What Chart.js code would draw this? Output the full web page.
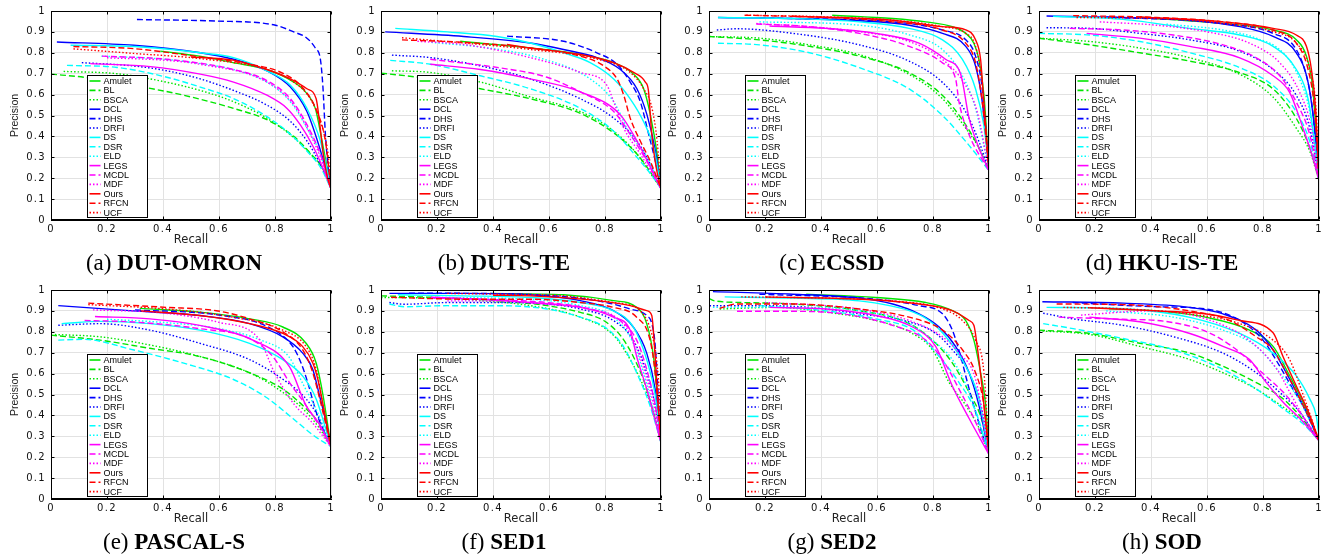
<!DOCTYPE html>
<html>
<head>
<meta charset="utf-8">
<script src="https://cdn.jsdelivr.net/npm/chart.js@4.4.0/dist/chart.umd.min.js"></script>
<style>
  body { margin: 0; background: #fff; width: 1331px; height: 559px; position: relative; overflow: hidden; }
  canvas { position: absolute; }
  .cap { position: absolute; width: 348px; height: 28px; line-height: 28px; text-align: center;
         font-family: "Liberation Serif", "Times New Roman", serif; font-size: 23px; color: #000; white-space: nowrap; }
</style>
</head>
<body>
<script>
const methods = ['Amulet', 'BL', 'BSCA', 'DCL', 'DHS', 'DRFI', 'DS', 'DSR', 'ELD', 'LEGS', 'MCDL', 'MDF', 'Ours', 'RFCN', 'UCF'];

// [recall, precision] pairs, one list per method (same order as methods)
const dutOmron = [
  [[0.39,0.808],[0.53,0.784],[0.65,0.753],[0.77,0.72],[0.867,0.66],[0.914,0.605],[0.944,0.534],[0.968,0.378],[0.988,0.236],[1,0.15]],
  [[0,0.698],[0.117,0.683],[0.295,0.644],[0.474,0.597],[0.652,0.534],[0.771,0.48],[0.867,0.40],[0.926,0.32],[0.974,0.238],[1,0.15]],
  [[0.045,0.711],[0.236,0.70],[0.355,0.675],[0.533,0.62],[0.652,0.566],[0.771,0.4875],[0.867,0.394],[0.926,0.316],[0.974,0.238],[1,0.15]],
  [[0.021,0.852],[0.295,0.836],[0.533,0.80],[0.652,0.769],[0.771,0.714],[0.855,0.636],[0.914,0.519],[0.956,0.36],[0.986,0.22],[1,0.15]],
  [[0.307,0.959],[0.59,0.952],[0.795,0.934],[0.867,0.90],[0.914,0.87],[0.944,0.823],[0.962,0.77],[0.971,0.64],[0.98,0.41],[0.99,0.25],[1,0.16]],
  [[0.11,0.753],[0.295,0.737],[0.414,0.714],[0.533,0.675],[0.652,0.62],[0.771,0.55],[0.855,0.472],[0.914,0.378],[0.962,0.266],[1,0.15]],
  [[0.07,0.836],[0.3,0.83],[0.533,0.80],[0.652,0.777],[0.771,0.714],[0.855,0.645],[0.914,0.534],[0.962,0.378],[1,0.15]],
  [[0.057,0.74],[0.236,0.73],[0.414,0.683],[0.533,0.636],[0.652,0.581],[0.771,0.495],[0.855,0.41],[0.914,0.33],[0.962,0.253],[1,0.15]],
  [[0.18,0.784],[0.4,0.77],[0.55,0.745],[0.652,0.72],[0.771,0.66],[0.855,0.566],[0.914,0.44],[0.962,0.316],[1,0.15]],
  [[0.14,0.748],[0.355,0.734],[0.533,0.698],[0.652,0.66],[0.771,0.597],[0.843,0.534],[0.89,0.456],[0.938,0.347],[0.98,0.22],[1,0.15]],
  [[0.182,0.784],[0.414,0.769],[0.652,0.72],[0.771,0.667],[0.855,0.58],[0.914,0.456],[0.962,0.316],[1,0.15]],
  [[0.2,0.776],[0.4,0.765],[0.533,0.745],[0.771,0.66],[0.867,0.55],[0.926,0.41],[0.968,0.28],[1,0.15]],
  [[0.5,0.78],[0.65,0.765],[0.771,0.72],[0.867,0.667],[0.914,0.628],[0.947,0.58],[0.958,0.48],[0.972,0.32],[0.988,0.2],[1,0.15]],
  [[0.08,0.83],[0.295,0.82],[0.533,0.78],[0.712,0.745],[0.831,0.70],[0.902,0.628],[0.95,0.519],[0.98,0.378],[1,0.15]],
  [[0.08,0.819],[0.295,0.797],[0.533,0.772],[0.771,0.72],[0.867,0.66],[0.926,0.58],[0.962,0.47],[0.99,0.31],[1,0.15]]
];

const dutsTe = [
  [[0.283,0.855],[0.533,0.823],[0.712,0.792],[0.831,0.753],[0.902,0.698],[0.938,0.628],[0.962,0.503],[0.986,0.316],[1,0.15]],
  [[0,0.703],[0.176,0.675],[0.355,0.628],[0.533,0.58],[0.712,0.51],[0.831,0.417],[0.914,0.316],[0.974,0.206],[1,0.15]],
  [[0.039,0.714],[0.176,0.706],[0.355,0.66],[0.533,0.589],[0.712,0.519],[0.831,0.425],[0.914,0.316],[0.974,0.2],[1,0.15]],
  [[0.015,0.90],[0.295,0.878],[0.533,0.847],[0.652,0.816],[0.771,0.777],[0.855,0.72],[0.914,0.628],[0.95,0.503],[0.98,0.331],[1,0.15]],
  [[0.45,0.88],[0.652,0.855],[0.771,0.80],[0.843,0.745],[0.89,0.66],[0.926,0.566],[0.956,0.41],[0.98,0.28],[1,0.15]],
  [[0.039,0.789],[0.176,0.777],[0.355,0.7375],[0.533,0.675],[0.712,0.58],[0.831,0.4875],[0.914,0.378],[0.962,0.266],[1,0.15]],
  [[0.051,0.917],[0.236,0.90],[0.414,0.878],[0.533,0.847],[0.652,0.80],[0.747,0.753],[0.831,0.675],[0.89,0.58],[0.938,0.47],[0.974,0.347],[1,0.15]],
  [[0.033,0.764],[0.176,0.745],[0.355,0.69],[0.533,0.628],[0.712,0.534],[0.831,0.425],[0.914,0.30],[0.962,0.222],[1,0.15]],
  [[0.18,0.85],[0.4,0.82],[0.581,0.77],[0.747,0.675],[0.831,0.566],[0.89,0.41],[0.95,0.30],[1,0.15]],
  [[0.176,0.745],[0.355,0.72],[0.533,0.675],[0.712,0.613],[0.855,0.503],[0.914,0.378],[0.962,0.253],[1,0.15]],
  [[0.176,0.769],[0.414,0.73],[0.593,0.683],[0.712,0.613],[0.831,0.519],[0.89,0.41],[0.95,0.28],[1,0.15]],
  [[0.13,0.855],[0.295,0.84],[0.533,0.777],[0.712,0.706],[0.807,0.644],[0.831,0.566],[0.867,0.44],[0.926,0.316],[1,0.15]],
  [[0.45,0.84],[0.533,0.823],[0.712,0.792],[0.831,0.753],[0.902,0.706],[0.944,0.66],[0.955,0.62],[0.967,0.41],[0.983,0.25],[1,0.15]],
  [[0.075,0.862],[0.295,0.85],[0.533,0.823],[0.712,0.784],[0.795,0.738],[0.843,0.675],[0.867,0.597],[0.89,0.4875],[0.926,0.378],[0.962,0.28],[1,0.15]],
  [[0.075,0.872],[0.295,0.847],[0.533,0.816],[0.771,0.77],[0.89,0.706],[0.938,0.628],[0.968,0.534],[0.986,0.378],[1,0.15]]
];

const ecssd = [
  [[0.44,0.98],[0.656,0.964],[0.774,0.948],[0.869,0.925],[0.917,0.893],[0.946,0.846],[0.964,0.768],[0.982,0.596],[1,0.235]],
  [[0,0.878],[0.18,0.862],[0.359,0.831],[0.537,0.784],[0.715,0.705],[0.834,0.596],[0.917,0.455],[0.964,0.345],[1,0.235]],
  [[0,0.878],[0.18,0.87],[0.359,0.838],[0.537,0.791],[0.715,0.697],[0.834,0.58],[0.917,0.439],[0.964,0.345],[1,0.235]],
  [[0.032,0.969],[0.299,0.964],[0.537,0.953],[0.715,0.932],[0.834,0.893],[0.917,0.831],[0.952,0.737],[0.976,0.564],[1,0.235]],
  [[0.18,0.967],[0.656,0.948],[0.834,0.909],[0.917,0.862],[0.952,0.784],[0.976,0.627],[1,0.235]],
  [[0.028,0.909],[0.097,0.915],[0.299,0.893],[0.537,0.838],[0.715,0.76],[0.834,0.658],[0.917,0.517],[0.964,0.376],[1,0.235]],
  [[0.032,0.969],[0.299,0.964],[0.537,0.948],[0.715,0.917],[0.834,0.862],[0.905,0.768],[0.952,0.627],[0.982,0.45],[1,0.235]],
  [[0.032,0.846],[0.18,0.838],[0.359,0.80],[0.537,0.729],[0.715,0.627],[0.834,0.50],[0.917,0.376],[0.964,0.298],[1,0.235]],
  [[0.18,0.948],[0.537,0.932],[0.715,0.886],[0.834,0.815],[0.905,0.69],[0.952,0.533],[1,0.235]],
  [[0.216,0.928],[0.418,0.917],[0.596,0.893],[0.75,0.846],[0.846,0.768],[0.899,0.697],[0.929,0.486],[0.964,0.345],[1,0.235]],
  [[0.169,0.938],[0.359,0.925],[0.537,0.893],[0.715,0.831],[0.834,0.752],[0.881,0.674],[0.893,0.564],[0.929,0.408],[1,0.235]],
  [[0.169,0.94],[0.359,0.925],[0.537,0.901],[0.715,0.854],[0.834,0.768],[0.917,0.643],[0.958,0.517],[1,0.235]],
  [[0.3,0.975],[0.656,0.956],[0.834,0.925],[0.917,0.91],[0.952,0.862],[0.97,0.768],[0.982,0.55],[1,0.235]],
  [[0.127,0.98],[0.418,0.969],[0.656,0.948],[0.834,0.909],[0.917,0.846],[0.952,0.752],[0.976,0.564],[1,0.235]],
  [[0.133,0.98],[0.418,0.972],[0.656,0.956],[0.834,0.925],[0.917,0.893],[0.952,0.831],[0.976,0.643],[1,0.235]]
];

const hkuIsTe = [
  [[0.36,0.969],[0.657,0.94],[0.836,0.909],[0.919,0.862],[0.955,0.784],[0.978,0.627],[1,0.19]],
  [[0,0.87],[0.182,0.838],[0.36,0.80],[0.539,0.76],[0.717,0.705],[0.836,0.627],[0.919,0.486],[0.967,0.345],[1,0.19]],
  [[0,0.87],[0.182,0.854],[0.36,0.823],[0.539,0.776],[0.717,0.697],[0.836,0.588],[0.919,0.439],[0.967,0.329],[1,0.19]],
  [[0.027,0.976],[0.3,0.969],[0.539,0.956],[0.717,0.925],[0.836,0.878],[0.919,0.80],[0.961,0.658],[0.984,0.439],[1,0.19]],
  [[0.24,0.972],[0.657,0.94],[0.836,0.893],[0.919,0.815],[0.961,0.658],[0.978,0.517],[1,0.19]],
  [[0.027,0.92],[0.182,0.917],[0.36,0.893],[0.539,0.862],[0.717,0.807],[0.836,0.72],[0.919,0.596],[0.967,0.439],[1,0.19]],
  [[0.05,0.975],[0.3,0.96],[0.539,0.917],[0.717,0.885],[0.836,0.831],[0.919,0.72],[0.961,0.58],[0.984,0.376],[1,0.19]],
  [[0,0.893],[0.182,0.885],[0.36,0.854],[0.539,0.80],[0.717,0.729],[0.836,0.643],[0.919,0.517],[0.967,0.376],[1,0.19]],
  [[0.455,0.937],[0.657,0.909],[0.776,0.87],[0.872,0.80],[0.931,0.674],[0.967,0.517],[1,0.19]],
  [[0.17,0.893],[0.36,0.87],[0.539,0.831],[0.717,0.776],[0.836,0.69],[0.895,0.611],[0.943,0.439],[0.978,0.298],[1,0.19]],
  [[0.11,0.917],[0.3,0.909],[0.479,0.885],[0.657,0.838],[0.776,0.776],[0.86,0.69],[0.919,0.564],[0.967,0.408],[1,0.19]],
  [[0.217,0.948],[0.42,0.932],[0.598,0.901],[0.752,0.846],[0.86,0.752],[0.931,0.611],[0.973,0.439],[1,0.19]],
  [[0.36,0.972],[0.657,0.948],[0.836,0.917],[0.919,0.885],[0.955,0.831],[0.973,0.72],[0.988,0.53],[1,0.19]],
  [[0.122,0.978],[0.42,0.969],[0.657,0.948],[0.836,0.909],[0.919,0.846],[0.961,0.72],[0.984,0.53],[1,0.19]],
  [[0.134,0.969],[0.42,0.964],[0.657,0.94],[0.836,0.901],[0.919,0.846],[0.967,0.72],[0.99,0.517],[1,0.19]]
];

const pascalS = [
  [[0.317,0.912],[0.532,0.894],[0.709,0.862],[0.828,0.823],[0.911,0.745],[0.947,0.651],[0.971,0.50],[1,0.25]],
  [[0,0.784],[0.175,0.76],[0.353,0.721],[0.531,0.682],[0.709,0.604],[0.828,0.526],[0.911,0.432],[0.958,0.36],[1,0.25]],
  [[0.014,0.787],[0.175,0.776],[0.353,0.737],[0.531,0.682],[0.709,0.604],[0.828,0.51],[0.911,0.416],[0.958,0.34],[1,0.25]],
  [[0.026,0.925],[0.293,0.90],[0.531,0.878],[0.709,0.839],[0.828,0.776],[0.899,0.698],[0.935,0.62],[0.958,0.50],[0.982,0.37],[1,0.25]],
  [[0.3,0.905],[0.6,0.88],[0.78,0.82],[0.864,0.729],[0.893,0.651],[0.917,0.557],[0.947,0.416],[0.976,0.32],[1,0.25]],
  [[0.026,0.831],[0.175,0.839],[0.353,0.808],[0.531,0.745],[0.709,0.667],[0.828,0.573],[0.911,0.479],[0.958,0.385],[1,0.25]],
  [[0.038,0.839],[0.175,0.85],[0.353,0.839],[0.531,0.808],[0.709,0.745],[0.828,0.667],[0.899,0.588],[0.947,0.479],[1,0.25]],
  [[0.026,0.76],[0.115,0.764],[0.293,0.714],[0.471,0.651],[0.65,0.573],[0.768,0.487],[0.864,0.385],[0.935,0.307],[1,0.25]],
  [[0.2,0.86],[0.4,0.845],[0.6,0.815],[0.75,0.76],[0.85,0.68],[0.9,0.55],[0.95,0.42],[1,0.25]],
  [[0.157,0.873],[0.353,0.862],[0.531,0.831],[0.733,0.753],[0.852,0.632],[0.911,0.447],[0.958,0.36],[1,0.25]],
  [[0.12,0.854],[0.293,0.847],[0.531,0.815],[0.709,0.768],[0.792,0.682],[0.852,0.557],[0.911,0.447],[0.958,0.35],[1,0.25]],
  [[0.15,0.905],[0.4,0.89],[0.6,0.845],[0.74,0.77],[0.8,0.6],[0.87,0.45],[0.93,0.37],[1,0.25]],
  [[0.32,0.9],[0.531,0.878],[0.709,0.839],[0.828,0.792],[0.899,0.729],[0.935,0.651],[0.953,0.573],[0.976,0.42],[1,0.25]],
  [[0.133,0.937],[0.412,0.917],[0.59,0.901],[0.709,0.862],[0.828,0.80],[0.899,0.714],[0.935,0.604],[0.965,0.45],[1,0.25]],
  [[0.133,0.93],[0.412,0.909],[0.65,0.87],[0.828,0.808],[0.911,0.729],[0.947,0.62],[0.971,0.45],[1,0.25]]
];

const sed1 = [
  [[0.39,0.984],[0.652,0.977],[0.83,0.949],[0.913,0.917],[0.949,0.839],[0.973,0.682],[0.99,0.45],[1,0.27]],
  [[0,0.972],[0.178,0.965],[0.415,0.949],[0.593,0.925],[0.712,0.893],[0.795,0.854],[0.854,0.784],[0.901,0.682],[0.949,0.526],[1,0.27]],
  [[0,0.964],[0.178,0.962],[0.356,0.949],[0.534,0.925],[0.712,0.87],[0.83,0.784],[0.89,0.667],[0.937,0.541],[0.973,0.42],[1,0.27]],
  [[0.03,0.984],[0.297,0.984],[0.534,0.977],[0.712,0.949],[0.83,0.901],[0.901,0.823],[0.949,0.698],[0.979,0.526],[1,0.27]],
  [[0.1,0.985],[0.5,0.98],[0.77,0.949],[0.89,0.909],[0.949,0.878],[0.967,0.84],[0.979,0.74],[0.99,0.5],[1,0.27]],
  [[0.03,0.94],[0.083,0.932],[0.237,0.94],[0.415,0.94],[0.593,0.933],[0.712,0.909],[0.83,0.854],[0.901,0.76],[0.949,0.604],[0.979,0.45],[1,0.27]],
  [[0.06,0.977],[0.297,0.972],[0.534,0.964],[0.712,0.94],[0.83,0.90],[0.901,0.823],[0.949,0.667],[0.979,0.5],[1,0.27]],
  [[0.03,0.933],[0.083,0.92],[0.237,0.925],[0.415,0.925],[0.593,0.909],[0.712,0.87],[0.807,0.815],[0.866,0.729],[0.913,0.604],[0.96,0.45],[1,0.27]],
  [[0.18,0.965],[0.534,0.955],[0.712,0.925],[0.83,0.87],[0.901,0.745],[0.949,0.55],[1,0.27]],
  [[0.178,0.965],[0.356,0.956],[0.534,0.94],[0.712,0.917],[0.83,0.87],[0.89,0.807],[0.913,0.682],[0.949,0.526],[1,0.27]],
  [[0.178,0.962],[0.415,0.953],[0.593,0.94],[0.747,0.909],[0.854,0.854],[0.913,0.76],[0.949,0.62],[0.979,0.45],[1,0.27]],
  [[0.237,0.948],[0.415,0.948],[0.593,0.932],[0.747,0.909],[0.854,0.854],[0.901,0.76],[0.943,0.604],[0.979,0.42],[1,0.27]],
  [[0.4,0.975],[0.534,0.972],[0.771,0.949],[0.89,0.925],[0.949,0.901],[0.967,0.878],[0.979,0.682],[0.99,0.45],[1,0.27]],
  [[0.036,0.965],[0.297,0.956],[0.534,0.956],[0.712,0.94],[0.83,0.917],[0.913,0.87],[0.961,0.76],[0.979,0.604],[1,0.27]],
  [[0.237,0.984],[0.415,0.98],[0.652,0.972],[0.83,0.94],[0.925,0.901],[0.967,0.79],[0.984,0.667],[0.996,0.45],[1,0.27]]
];

const sed2 = [
  [[0.347,0.98],[0.596,0.964],[0.774,0.94],[0.869,0.901],[0.917,0.854],[0.946,0.76],[0.97,0.604],[0.988,0.45],[1,0.213]],
  [[0,0.96],[0.02,0.948],[0.121,0.94],[0.299,0.933],[0.537,0.901],[0.715,0.839],[0.81,0.745],[0.869,0.651],[0.929,0.51],[0.976,0.37],[1,0.213]],
  [[0.038,0.909],[0.24,0.917],[0.418,0.894],[0.596,0.854],[0.715,0.80],[0.798,0.714],[0.858,0.557],[0.917,0.448],[0.964,0.34],[1,0.213]],
  [[0.014,0.992],[0.299,0.98],[0.537,0.961],[0.656,0.933],[0.75,0.886],[0.822,0.823],[0.881,0.729],[0.929,0.604],[0.964,0.448],[1,0.213]],
  [[0.18,0.98],[0.596,0.956],[0.75,0.925],[0.834,0.886],[0.869,0.808],[0.899,0.682],[0.923,0.557],[0.952,0.416],[1,0.213]],
  [[0.002,0.925],[0.18,0.925],[0.359,0.917],[0.537,0.886],[0.715,0.847],[0.81,0.792],[0.869,0.714],[0.929,0.604],[0.976,0.42],[1,0.213]],
  [[0.056,0.967],[0.299,0.961],[0.537,0.948],[0.715,0.901],[0.786,0.854],[0.846,0.776],[0.917,0.635],[0.964,0.479],[1,0.213]],
  [[0.18,0.925],[0.418,0.9],[0.596,0.862],[0.739,0.80],[0.822,0.682],[0.893,0.557],[0.952,0.42],[1,0.213]],
  [[0.014,0.917],[0.18,0.917],[0.359,0.917],[0.537,0.901],[0.715,0.839],[0.798,0.76],[0.869,0.667],[0.929,0.51],[1,0.213]],
  [[0.216,0.917],[0.418,0.909],[0.596,0.878],[0.727,0.823],[0.81,0.729],[0.869,0.541],[0.929,0.385],[1,0.213]],
  [[0.1,0.898],[0.299,0.898],[0.477,0.886],[0.656,0.831],[0.774,0.76],[0.834,0.667],[0.893,0.526],[0.952,0.369],[1,0.213]],
  [[0.2,0.94],[0.418,0.925],[0.537,0.909],[0.715,0.854],[0.834,0.776],[0.893,0.698],[0.952,0.573],[1,0.213]],
  [[0.2,0.967],[0.537,0.956],[0.75,0.933],[0.869,0.901],[0.929,0.854],[0.946,0.831],[0.958,0.729],[0.976,0.526],[1,0.213]],
  [[0.038,0.912],[0.097,0.933],[0.299,0.933],[0.537,0.909],[0.715,0.87],[0.834,0.808],[0.905,0.714],[0.952,0.604],[0.982,0.448],[1,0.213]],
  [[0.115,0.967],[0.418,0.961],[0.656,0.948],[0.834,0.909],[0.905,0.854],[0.952,0.76],[0.982,0.604],[1,0.213]]
];

const sod = [
  [[0.25,0.91],[0.42,0.9],[0.598,0.869],[0.752,0.808],[0.836,0.73],[0.895,0.59],[0.955,0.43],[1,0.279]],
  [[0,0.808],[0.182,0.792],[0.36,0.745],[0.539,0.698],[0.657,0.635],[0.776,0.557],[0.872,0.479],[0.943,0.38],[1,0.279]],
  [[0,0.805],[0.182,0.787],[0.36,0.73],[0.539,0.667],[0.657,0.604],[0.776,0.526],[0.872,0.44],[0.943,0.37],[1,0.279]],
  [[0.012,0.944],[0.3,0.937],[0.539,0.917],[0.657,0.886],[0.776,0.808],[0.836,0.714],[0.895,0.574],[0.943,0.448],[1,0.279]],
  [[0.12,0.94],[0.42,0.92],[0.598,0.909],[0.717,0.854],[0.8,0.76],[0.86,0.635],[0.907,0.526],[0.955,0.416],[1,0.279]],
  [[0.015,0.889],[0.122,0.862],[0.3,0.831],[0.479,0.777],[0.657,0.698],[0.776,0.604],[0.86,0.51],[0.931,0.416],[1,0.279]],
  [[0.027,0.917],[0.3,0.91],[0.539,0.869],[0.717,0.792],[0.836,0.698],[0.919,0.589],[0.967,0.479],[0.99,0.4],[1,0.3]],
  [[0.015,0.839],[0.122,0.815],[0.3,0.768],[0.479,0.714],[0.657,0.62],[0.776,0.526],[0.872,0.432],[0.943,0.36],[1,0.279]],
  [[0.24,0.9],[0.48,0.87],[0.657,0.808],[0.776,0.73],[0.86,0.604],[0.931,0.47],[1,0.279]],
  [[0.18,0.87],[0.36,0.848],[0.539,0.792],[0.657,0.73],[0.752,0.667],[0.812,0.557],[0.872,0.463],[0.943,0.37],[1,0.279]],
  [[0.07,0.87],[0.3,0.86],[0.45,0.85],[0.6,0.8],[0.7,0.72],[0.8,0.6],[0.88,0.5],[0.95,0.38],[1,0.28]],
  [[0.15,0.88],[0.4,0.9],[0.6,0.86],[0.75,0.76],[0.85,0.62],[0.9,0.5],[0.95,0.38],[1,0.28]],
  [[0.18,0.915],[0.42,0.9],[0.598,0.885],[0.717,0.854],[0.836,0.795],[0.871,0.683],[0.919,0.541],[0.967,0.401],[1,0.279]],
  [[0.063,0.933],[0.3,0.93],[0.539,0.90],[0.681,0.854],[0.776,0.776],[0.836,0.714],[0.895,0.574],[0.955,0.416],[1,0.279]],
  [[0.087,0.917],[0.3,0.91],[0.539,0.885],[0.717,0.839],[0.836,0.76],[0.895,0.667],[0.943,0.5],[1,0.279]]
];

const panels = [
  { letter: '(a)', name: 'DUT-OMRON', curves: dutOmron, left: 0,   top: 0 },
  { letter: '(b)', name: 'DUTS-TE',   curves: dutsTe,   left: 330, top: 0 },
  { letter: '(c)', name: 'ECSSD',     curves: ecssd,    left: 658, top: 0 },
  { letter: '(d)', name: 'HKU-IS-TE', curves: hkuIsTe,  left: 988, top: 0 },
  { letter: '(e)', name: 'PASCAL-S',  curves: pascalS,  left: 0,   top: 279 },
  { letter: '(f)', name: 'SED1',      curves: sed1,     left: 330, top: 279 },
  { letter: '(g)', name: 'SED2',      curves: sed2,     left: 658, top: 279 },
  { letter: '(h)', name: 'SOD',       curves: sod,      left: 988, top: 279 }
];

// matlab-ish colour per group of three, then solid / dashed / dotted
const hues = ['#00e600', '#0000ff', '#00ffff', '#ff00ff', '#ff0000'];
const dashes = [[], [6, 3], [1.5, 2]];

const matlabBox = {
  id: 'matlabBox',
  beforeDraw(chart) {
    chart.ctx.letterSpacing = '0px';
  },
  afterDatasetsDraw(chart) {
    const { ctx, chartArea: a, scales } = chart;
    const L = Math.round(a.left) + 0.5, R = Math.round(a.right) - 0.5;
    const T = Math.round(a.top) + 0.5, B = Math.round(a.bottom) - 0.5;
    ctx.save();
    ctx.strokeStyle = '#000';
    ctx.lineWidth = 1;
    ctx.setLineDash([]);
    ctx.strokeRect(L, T, R - L, B - T);

    // inward tick marks on all four sides
    ctx.beginPath();
    scales.x.ticks.forEach(t => {
      const px = Math.round(scales.x.getPixelForValue(t.value)) + 0.5;
      ctx.moveTo(px, B); ctx.lineTo(px, B - 3);
      ctx.moveTo(px, T); ctx.lineTo(px, T + 3);
    });
    scales.y.ticks.forEach(t => {
      const py = Math.round(scales.y.getPixelForValue(t.value)) + 0.5;
      ctx.moveTo(L, py); ctx.lineTo(L + 3, py);
      ctx.moveTo(R, py); ctx.lineTo(R - 3, py);
    });
    ctx.stroke();

    // legend box inside the axes
    const lx = Math.round(a.left) + 36.5, ly = Math.round(a.top) + 64.5;
    const lw = 60, lh = 142;
    ctx.fillStyle = '#fff';
    ctx.fillRect(lx, ly, lw, lh);
    ctx.strokeRect(lx, ly, lw, lh);
    ctx.font = '9px "Liberation Sans", Arial, sans-serif';
    ctx.textBaseline = 'middle';
    chart.data.datasets.forEach((ds, i) => {
      const cy = ly + 5.5 + i * 9.4;
      ctx.strokeStyle = ds.borderColor;
      ctx.lineWidth = 1.6;
      ctx.setLineDash(ds.borderDash);
      ctx.beginPath();
      ctx.moveTo(lx + 2, cy);
      ctx.lineTo(lx + 13, cy);
      ctx.stroke();
      ctx.fillStyle = '#000';
      ctx.fillText(ds.label, lx + 16, cy + 0.5);
    });
    ctx.restore();
    // tick labels are drawn after this point (ticks.z = 1): widen them a bit
    ctx.letterSpacing = '1.3px';
  },
  afterDraw(chart) {
    chart.ctx.letterSpacing = '0px';
  }
};

const tickFont = { family: '"DejaVu Sans", sans-serif', size: 10 };
const fmt = v => String(+Number(v).toFixed(1));

panels.forEach(p => {
  const canvas = document.createElement('canvas');
  canvas.width = 340;
  canvas.height = 250;
  canvas.style.left = p.left + 'px';
  canvas.style.top = p.top + 'px';
  document.body.appendChild(canvas);

  const cap = document.createElement('div');
  cap.className = 'cap';
  cap.style.left = p.left + 'px';
  cap.style.top = (p.top + 249) + 'px';
  cap.innerHTML = p.letter + ' <b>' + p.name + '</b>';
  document.body.appendChild(cap);

  new Chart(canvas, {
    type: 'line',
    data: {
      datasets: methods.map((m, i) => ({
        label: m,
        data: p.curves[i].map(([x, y]) => ({ x, y })),
        borderColor: hues[Math.floor(i / 3)],
        borderDash: dashes[i % 3],
        borderWidth: 1.4,
        pointRadius: 0,
        fill: false,
        cubicInterpolationMode: 'monotone',
        order: methods.length - i
      }))
    },
    options: {
      responsive: false,
      animation: false,
      events: [],
      layout: { padding: { top: 7, right: 9, left: 0, bottom: 0 } },
      plugins: { legend: { display: false }, tooltip: { enabled: false } },
      scales: {
        x: {
          type: 'linear', min: 0, max: 1,
          afterFit: s => { s.height = 30; },
          ticks: { stepSize: 0.2, font: tickFont, color: '#111', padding: 3, maxRotation: 0, z: 1, callback: fmt },
          grid: { color: '#e2e2e2', drawTicks: false },
          border: { color: '#000' },
          title: { display: true, text: 'Recall', color: '#222',
                   font: { family: '"DejaVu Sans", sans-serif', size: 11.5 }, padding: { top: 0, bottom: 3 } }
        },
        y: {
          min: 0, max: 1,
          afterFit: s => { s.width = 51; },
          ticks: { stepSize: 0.1, font: tickFont, color: '#111', padding: 5, z: 1, callback: fmt },
          grid: { color: '#e2e2e2', drawTicks: false },
          border: { color: '#000' },
          title: { display: true, text: 'Precision', color: '#222',
                   font: { family: '"Liberation Sans", Arial, sans-serif', size: 10.5 }, padding: { top: 9, bottom: 0 } }
        }
      }
    },
    plugins: [matlabBox]
  });
});
</script>
</body>
</html>
